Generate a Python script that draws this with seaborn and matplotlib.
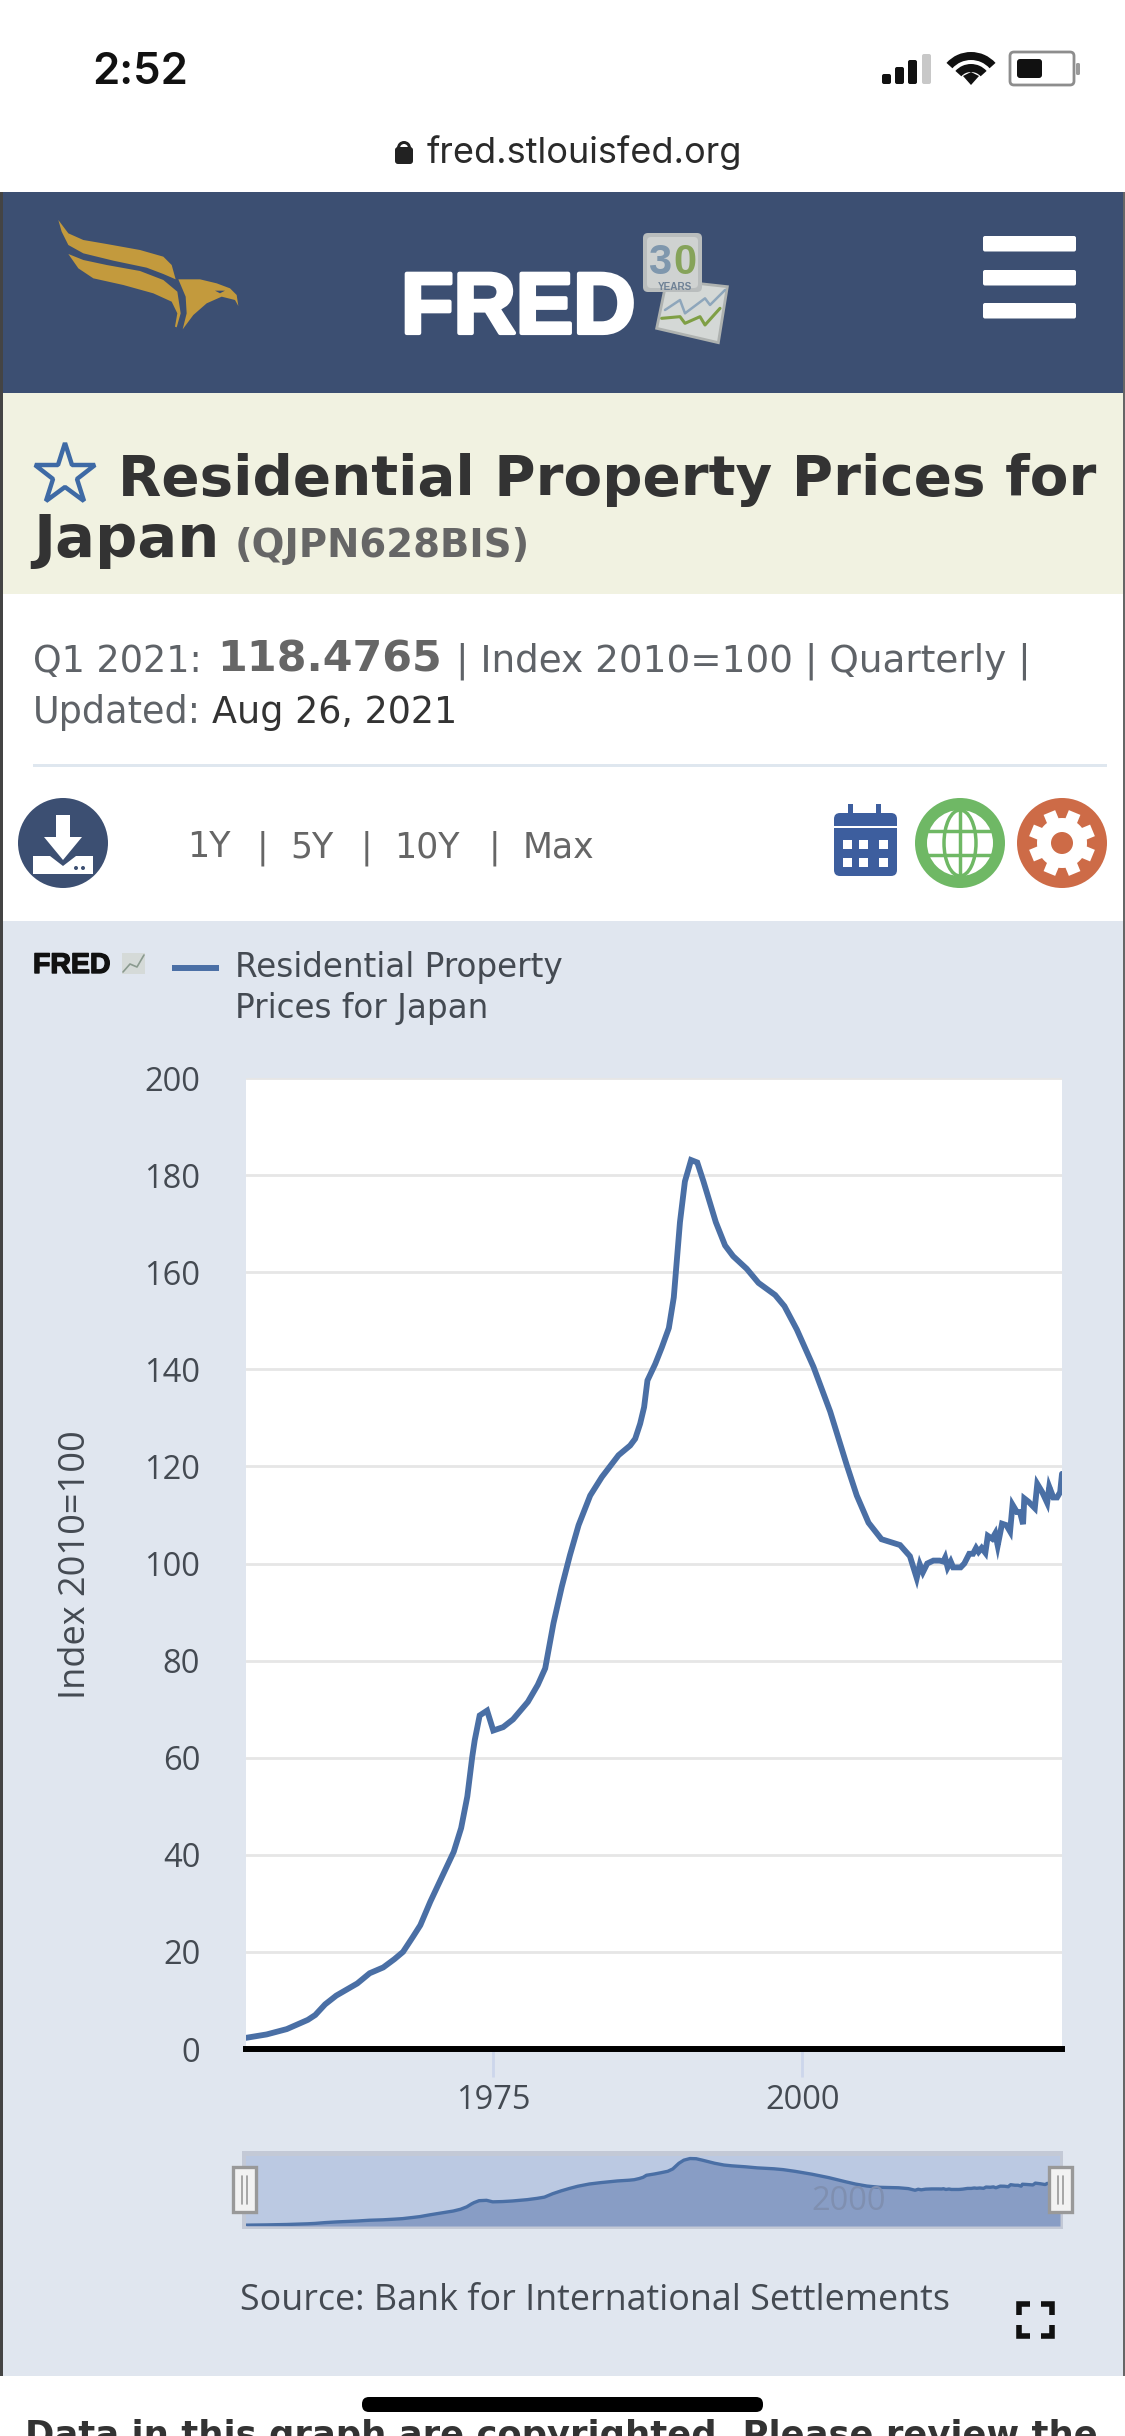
import numpy as np
import pandas as pd
import matplotlib
matplotlib.use("Agg")
import matplotlib.pyplot as plt
import matplotlib.patheffects as pe
from matplotlib.patches import Rectangle, Circle, Wedge, FancyBboxPatch, Polygon, Ellipse
import seaborn as sns

# Values (year as decimal, index 2010=100).
years = [1955, 1956.67, 1958.3, 1960, 1960.6, 1961.4, 1962.3, 1964, 1965, 1966.1, 1967, 1967.7,
         1968.5, 1969.1, 1969.9, 1970.6, 1971.8, 1972.4, 1972.9, 1973.3, 1973.5, 1973.9, 1974.5,
         1975, 1975.8, 1976.6, 1977.8, 1978.6, 1979.2, 1979.87, 1980.54, 1981.2, 1981.9, 1982.84,
         1983.78, 1985.13, 1986.07, 1986.48, 1986.88, 1987.2, 1987.47, 1988.1, 1988.63, 1989.2,
         1989.6, 1990.1, 1990.5, 1991, 1991.5, 1992,
         1993, 1993.75, 1994.4, 1995.5, 1996.45, 1997.8, 1998.55, 1999.55, 2000.9, 2002.25, 2003.6,
         2004.4, 2005.35, 2006.4, 2007.9, 2008.7, 2009.25, 2009.5, 2009.75, 2010.1, 2010.6, 2011.1,
         2011.4, 2011.55, 2011.75, 2012, 2012.2, 2012.8, 2013.1, 2013.5, 2013.8, 2014.05, 2014.25,
         2014.5, 2014.8, 2015, 2015.35, 2015.6, 2015.8, 2016.15, 2016.5, 2016.8, 2017, 2017.35,
         2017.6, 2017.85, 2017.95, 2018.3, 2018.8, 2019, 2019.4, 2019.8, 2019.97, 2020.3, 2020.6,
         2020.85, 2021]
index_values = [2.3, 3.0, 4.1, 6.0, 7.0, 9.2, 11.0, 13.5, 15.6, 16.8, 18.5, 20.0,
                23.1, 25.5, 30.3, 34.1, 40.6, 45.5, 52, 60.2, 63.6, 68.7, 69.7,
                65.6, 66.3, 67.9, 71.5, 75, 78.4, 87.7, 95.2, 101.7, 107.9, 114.0,
                117.8, 122.3, 124.3, 125.7, 128.8, 132.2, 137.7, 141.1, 144.5, 148.5,
                154.8, 170.3, 178.7, 183.1, 182.6, 178.7,
                170.3, 165.5, 163.3, 160.7, 157.8, 155.3, 153, 148.2, 140.5, 131.3, 120.2,
                114, 108.4, 105, 103.8, 101.5, 97, 99.8, 98.2, 100, 100.6, 100.6,
                100.4, 101.2, 99.2, 100.4, 99.2, 99.2, 100, 102, 102, 103.2, 102.4,
                103.2, 102.2, 105.7, 105.1, 106.2, 103.7, 108.2, 107.9, 106.6, 112.1, 110.6,
                110.6, 108.1, 113.4, 112.7, 111.4, 116.4, 114.7, 112.5, 115.8, 113.6, 113.6,
                114.7, 118.4765]
y_ticks = [0, 20, 40, 60, 80, 100, 120, 140, 160, 180, 200]
x_ticks = [1975, 2000]
x_tick_labels = ["1975", "2000"]

W, H = 1125, 2436
NAVY = "#3c4f72"
BLUE = "#4a6fa5"
PANEL = "#e0e6ef"
TEXT = "#444a52"
OPEN = "Open Sans"
VERD = "DejaVu Sans"
LOGO = "Liberation Sans"

sns.set_theme(style="white")
plt.rcParams["font.family"] = ["Open Sans", "DejaVu Sans"]

df = pd.DataFrame({"year": years, "value": index_values})

fig = plt.figure(figsize=(W / 100, H / 100), dpi=100, facecolor="white")


def px_axes(x0, y0, x1, y1, **kw):
    # axes from pixel box, y measured from the top of the screenshot
    return fig.add_axes([x0 / W, 1 - y1 / H, (x1 - x0) / W, (y1 - y0) / H], **kw)


def page_layer(z):
    a = fig.add_axes([0, 0, 1, 1], zorder=z)
    a.set_xlim(0, W)
    a.set_ylim(H, 0)
    a.axis("off")
    a.patch.set_alpha(0)
    return a


def box(a, x0, y0, x1, y1, color, **kw):
    a.add_patch(Rectangle((x0, y0), x1 - x0, y1 - y0, facecolor=color, edgecolor="none", **kw))


def rbox(a, x0, y0, x1, y1, r, color, **kw):
    a.add_patch(FancyBboxPatch((x0 + r, y0 + r), x1 - x0 - 2 * r, y1 - y0 - 2 * r,
                               boxstyle=f"round,pad={r}", facecolor=color, edgecolor="none", **kw))


def crop(points, x0, y0):
    return [[x0 + x / 3, y0 + y / 3] for x, y in points]


page = page_layer(0)
top = page_layer(5)

# page blocks
box(page, 0, 192, W, 393, NAVY)
box(page, 0, 393, W, 594, "#f1f2e1")
box(page, 0, 921, W, 2376, PANEL)
box(page, 33, 764, 1107, 767, "#dfe7ef")
box(page, 0, 192, 3, 2376, "#444444")
box(page, W - 2, 192, W, 2376, "#666666")

# status bar
page.text(92, 84, "2:52", fontsize=31.5, family="Inter", weight="semibold", color="#111111", va="baseline")
for i, (x, y) in enumerate(zip([882, 895, 908, 922], [74, 67, 60, 54])):
    rbox(page, x, y, x + 9, 84, 2, "#111111" if i < 3 else "#c8c8c8")
for r, w in [(33, 8), (21, 8)]:
    page.add_patch(Wedge((971, 85), r, 222, 318, width=w, facecolor="#111111", edgecolor="none"))
page.add_patch(Polygon([[971, 85], [963, 76], [971, 72], [979, 76]], facecolor="#111111", edgecolor="none"))
page.add_patch(FancyBboxPatch((1014, 56), 56, 25, boxstyle="round,pad=4", facecolor="white",
                              edgecolor="#8d8d8d", linewidth=2))
rbox(page, 1017, 59, 1042, 78, 3, "#111111")
rbox(page, 1076, 63, 1080, 75, 1.5, "#9a9a9a")

# address bar
rbox(page, 395, 147, 413, 164, 3, "#222222")
page.add_patch(Wedge((404, 148), 7, 180, 360, width=3, facecolor="#222222", edgecolor="none"))
page.text(427, 163, "fred.stlouisfed.org", fontsize=26, family="Inter", color="#2a2a2a", va="baseline")

# eagle logo
GOLD = "#c39a3d"
upper_wing = [(55, 60), (85, 100), (130, 120), (200, 132), (300, 150), (370, 170), (395, 195), (407, 238),
              (370, 222), (320, 203), (220, 182), (130, 160), (85, 135), (65, 95)]
lower_wing = [(85, 162), (130, 180), (200, 195), (300, 213), (370, 240), (412, 275), (422, 340), (410, 382),
              (405, 380), (412, 340), (395, 305), (340, 280), (250, 255), (160, 235), (115, 205)]
eagle_head = [(415, 238), (480, 238), (530, 250), (570, 265), (590, 285), (595, 318), (585, 300), (545, 290),
              (500, 310), (460, 345), (428, 388), (440, 340), (437, 290)]
for shape in [upper_wing, lower_wing, eagle_head]:
    page.add_patch(Polygon(crop(shape, 40, 200), facecolor=GOLD, edgecolor="none"))
page.add_patch(Polygon(crop([(525, 272), (555, 272), (540, 280)], 40, 200), facecolor=NAVY, edgecolor="none"))

# FRED logo and badge
page.text(401, 333, "FRED", fontsize=62, family=LOGO, weight="bold", color="white", va="baseline",
          path_effects=[pe.withStroke(linewidth=3, foreground="white")])
card = [(830, 180), (1012, 200), (985, 368), (800, 325)]
page.add_patch(Polygon(crop(card, 390, 220), facecolor="#d4d8d6", edgecolor="#aeb2b0", linewidth=2))
blue_line = crop([(825, 270), (870, 240), (885, 280), (945, 235), (960, 255), (1005, 210)], 390, 220)
green_line = crop([(815, 295), (870, 290), (885, 310), (930, 290), (945, 315), (990, 265)], 390, 220)
page.plot(*zip(*blue_line), color="#8ea6bb", lw=1.8)
page.plot(*zip(*green_line), color="#7f9f45", lw=2.2)
rbox(page, 643, 233, 702, 292, 5, "#b9bdbd")
rbox(page, 647, 237, 698, 288, 4, "#cfd2d1")
page.text(660, 274, "3", fontsize=30, family=LOGO, weight="bold", color="#7f97ad", va="baseline", ha="center")
page.text(685, 274, "0", fontsize=30, family=LOGO, weight="bold", color="#86a35a", va="baseline", ha="center")
page.text(675, 290, "YEARS", fontsize=7.2, family=LOGO, weight="bold", color="#6f8296", va="baseline", ha="center")

# menu
for y in [236, 270, 303]:
    rbox(page, 983, y, 1076, y + 15.5, 2, "white")

# title
page.plot([64.5], [475], marker="*", ms=46, mfc="none", mec="#3e6aa5", mew=3.2)
page.text(118, 495, "Residential Property Prices for", fontsize=40.6, family=VERD, weight="bold",
          color="#333333", va="baseline")
page.text(33, 557, "Japan", fontsize=42.7, family=VERD, weight="bold", color="#333333", va="baseline")
page.text(235, 557, "(QJPN628BIS)", fontsize=27.8, family=VERD, weight="bold", color="#666666", va="baseline")

# meta lines
GREY = "#5f6368"
page.text(33, 672, "Q1 2021:", fontsize=26.4, family=VERD, color=GREY, va="baseline")
page.text(217, 672, "118.4765", fontsize=30.9, family=VERD, weight="bold", color="#666666", va="baseline")
page.text(456, 672, "| Index 2010=100 | Quarterly |", fontsize=26.9, family=VERD, color=GREY, va="baseline")
page.text(33, 723, "Updated:", fontsize=26.3, family=VERD, color=GREY, va="baseline")
page.text(212, 723, "Aug 26, 2021", fontsize=26.3, family=VERD, color="#333333", va="baseline")

# range row
for x, label in zip([187, 257, 290, 361, 394, 489, 523], ["1Y", "|", "5Y", "|", "10Y", "|", "Max"]):
    page.text(x, 857, label, fontsize=25, family=VERD, color="#666666", va="baseline")

# download icon
page.add_patch(Circle((63, 843), 45, facecolor=NAVY, edgecolor="none"))
page.add_patch(Polygon([[56, 815], [70, 815], [70, 837], [82, 837], [63, 860], [44, 837], [56, 837]],
                       facecolor="white", edgecolor="none"))
page.add_patch(Polygon([[33, 856], [50, 856], [63, 866], [76, 856], [93, 856], [93, 874], [33, 874]],
                       facecolor="white", edgecolor="none"))
page.add_patch(Circle((76, 868), 2, facecolor=NAVY, edgecolor="none"))
page.add_patch(Circle((83, 868), 2, facecolor=NAVY, edgecolor="none"))

# calendar icon
rbox(page, 834, 813, 897, 876, 6, "#3d5e9e")
box(page, 834, 826, 897, 828, "white")
box(page, 848, 804, 853, 816, "#3d5e9e")
box(page, 876, 804, 881, 816, "#3d5e9e")
for y in [840, 858]:
    for x in [843, 859, 879]:
        box(page, x, y, x + 9, y + 9, "white")

# globe icon
GREEN = "#6fb865"
page.add_patch(Circle((960, 843), 45, facecolor=GREEN, edgecolor="none"))
page.add_patch(Circle((960, 843), 33, facecolor="white", edgecolor="none"))
page.add_patch(Ellipse((960, 843), 32, 66, facecolor="none", edgecolor=GREEN, linewidth=2.5))
page.plot([960, 960], [810, 876], color=GREEN, lw=2.5)
page.plot([928, 992], [831, 831], color=GREEN, lw=2.5)
page.plot([928, 992], [855, 855], color=GREEN, lw=2.5)

# gear icon
ORANGE = "#cd6b47"
page.add_patch(Circle((1062, 843), 45, facecolor=ORANGE, edgecolor="none"))
page.add_patch(Circle((1062, 843), 25, facecolor="white", edgecolor="none"))
for ang in np.arange(0, 180, 45):
    dx, dy = 33 * np.cos(np.radians(ang + 22.5)), 33 * np.sin(np.radians(ang + 22.5))
    page.plot([1062 - dx, 1062 + dx], [843 - dy, 843 + dy], color="white", lw=9, solid_capstyle="butt")
page.add_patch(Circle((1062, 843), 11, facecolor=ORANGE, edgecolor="none", zorder=3))

# chart legend
page.text(33, 973, "FRED", fontsize=20.5, family=LOGO, weight="bold", color="#111111", va="baseline",
          path_effects=[pe.withStroke(linewidth=1, foreground="#111111")])
box(page, 122, 953, 145, 974, "#d5dad8")
page.plot([123, 130, 137, 144], [972, 964, 967, 955], color="#8a9a8f", lw=1.2)
page.plot([172, 219], [968, 968], color=BLUE, lw=4.3, solid_capstyle="butt")
page.text(235, 977, "Residential Property", fontsize=23.5, family=VERD, color=TEXT, va="baseline")
page.text(235, 1018, "Prices for Japan", fontsize=23.5, family=VERD, color=TEXT, va="baseline")

# main chart
ax = px_axes(246, 1078, 1062, 2049, zorder=2)
ax.set_facecolor("white")
sns.lineplot(data=df, x="year", y="value", color=BLUE, linewidth=4.2, errorbar=None, ax=ax,
             solid_joinstyle="miter", zorder=4)
ax.set_xlim(1955, 2021)
ax.set_ylim(0, 200)
ax.set_yticks(y_ticks)
ax.set_xticks(x_ticks)
ax.set_xticklabels(x_tick_labels)
ax.grid(axis="y", color="#e6e6e6", linewidth=2)
ax.grid(axis="x", visible=False)
ax.set_axisbelow(True)
for side in ["top", "left", "right"]:
    ax.spines[side].set_visible(False)
ax.spines["bottom"].set_color("black")
ax.spines["bottom"].set_linewidth(4.3)
ax.spines["bottom"].set_zorder(6)
ax.tick_params(axis="y", length=0, pad=33, labelsize=23.5, labelcolor=TEXT)
ax.tick_params(axis="x", length=20, width=2, color="#ccd6eb", pad=5, labelsize=23.5, labelcolor=TEXT, bottom=True)
ax.set_xlabel("")
ax.set_ylabel("Index 2010=100", fontsize=26, color=TEXT)
ax.yaxis.set_label_coords((94 - 246) / 816, 1 - (1565 - 1078) / 971)

# navigator
box(page, 242, 2151, 1063, 2229, "#c3c9d6")
box(page, 246, 2156, 1060, 2226, "#bbc9e2")
nav = px_axes(246, 2156, 1060, 2226, zorder=2)
nav.fill_between(years, index_values, color="#889dc5", linewidth=0)
sns.lineplot(data=df, x="year", y="value", color=BLUE, linewidth=2.4, errorbar=None, ax=nav)
nav.set_xlim(1955, 2021)
nav.set_ylim(0, 190)
nav.axis("off")
top.text(849, 2202, "2000", fontsize=23.5, family=OPEN, color="#7f8fb0", ha="center", va="center")

for x0 in [232, 1048]:
    top.add_patch(Rectangle((x0 + 1, 2167), 23, 45, facecolor="#f2f2f2", edgecolor="#999999", linewidth=2.4))
    top.plot([x0 + 10, x0 + 10], [2176, 2204], color="#999999", lw=1.2)
    top.plot([x0 + 15, x0 + 15], [2176, 2204], color="#999999", lw=1.2)

# source and fullscreen
page.text(240, 2310, "Source: Bank for International Settlements", fontsize=25.85, family=OPEN, color=TEXT, va="baseline")
for cx, cy, sx, sy in [(1017, 2302, 1, 1), (1054, 2302, -1, 1), (1017, 2338, 1, -1), (1054, 2338, -1, -1)]:
    page.plot([cx + 13 * sx, cx + 2 * sx, cx + 2 * sx], [cy + 2 * sy, cy + 2 * sy, cy + 13 * sy],
              color="#111111", lw=4, solid_joinstyle="miter", solid_capstyle="butt")

# bottom cut off text and home bar
page.text(25, 2446, "Data in this graph are copyrighted. Please review the", fontsize=25.5, family=VERD,
          weight="bold", color="#333333", va="baseline", clip_on=True)
rbox(top, 362, 2397, 763, 2412, 7, "#000000")

fig.savefig("out.png", dpi=100, facecolor="white")
